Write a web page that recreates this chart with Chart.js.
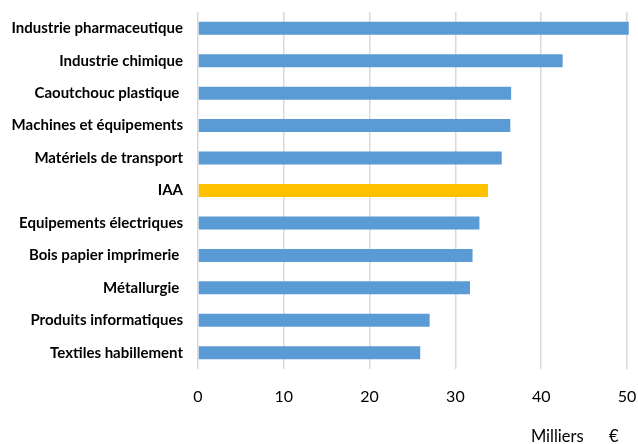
<!DOCTYPE html>
<html>
<head>
<meta charset="utf-8">
<script src="https://cdn.jsdelivr.net/npm/chart.js@4.4.1/dist/chart.umd.min.js"></script>
<style>
  html, body { margin: 0; padding: 0; background: #fff; }
  #wrap { width: 638px; height: 444px; position: relative; }
</style>
</head>
<body>
<div id="wrap"><canvas id="myChart"></canvas></div>
<script>
// secteurs (du haut vers le bas)
var categories = [
  'Industrie pharmaceutique',
  'Industrie chimique',
  'Caoutchouc plastique ',
  'Machines et équipements',
  'Matériels de transport',
  'IAA',
  'Equipements électriques',
  'Bois papier imprimerie ',
  'Métallurgie ',
  'Produits informatiques',
  'Textiles habillement'
];
// valeur en milliers d'euros
var values = [50.2, 42.5, 36.5, 36.4, 35.4, 33.8, 32.8, 32.0, 31.7, 27.0, 25.9];
var xTicks = [0, 10, 20, 30, 40, 50];
var highlight = 'IAA';

var font = 'Lato, "Open Sans", sans-serif';

var barColors = categories.map(function(c) {
  return c === highlight ? '#FFC000' : '#5B9BD5';
});

var ctx = document.getElementById('myChart').getContext('2d');
var chart = new Chart(ctx, {
  type: 'bar',
  data: {
    labels: categories,
    datasets: [{
      data: values,
      backgroundColor: barColors,
      barPercentage: 0.8,
      categoryPercentage: 0.5,
      clip: false
    }]
  },
  options: {
    indexAxis: 'y',
    responsive: true,
    maintainAspectRatio: false,
    animation: false,
    layout: {
      padding: { top: 12, right: 11, left: 0, bottom: 0 }
    },
    plugins: {
      legend: { display: false },
      tooltip: { enabled: false }
    },
    scales: {
      x: {
        min: 0,
        max: 50,
        afterBuildTicks: function(axis) {
          axis.ticks = xTicks.map(function(v) { return { value: v }; });
        },
        afterFit: function(axis) {
          axis.height = 75;
          axis.paddingLeft = 0;
          axis.paddingRight = 0;
        },
        grid: {
          color: '#D9D9D9',
          lineWidth: 1.5,
          drawTicks: false
        },
        border: { display: false },
        ticks: {
          padding: 18,
          color: '#000',
          font: { family: font, size: 16 }
        },
        title: {
          display: true,
          text: 'Milliers      €  ',
          align: 'end',
          color: '#000',
          font: { family: font, size: 16.5 },
          padding: { top: 22, bottom: -3 }
        }
      },
      y: {
        grid: { display: false, drawTicks: false },
        border: { display: false },
        afterFit: function(axis) {
          axis.width = 198;
          axis.paddingTop = 0;
          axis.paddingBottom = 0;
        },
        ticks: {
          padding: 15,
          color: '#000',
          font: { family: font, size: 15, weight: 'bold' }
        }
      }
    }
  }
});
</script>
</body>
</html>
